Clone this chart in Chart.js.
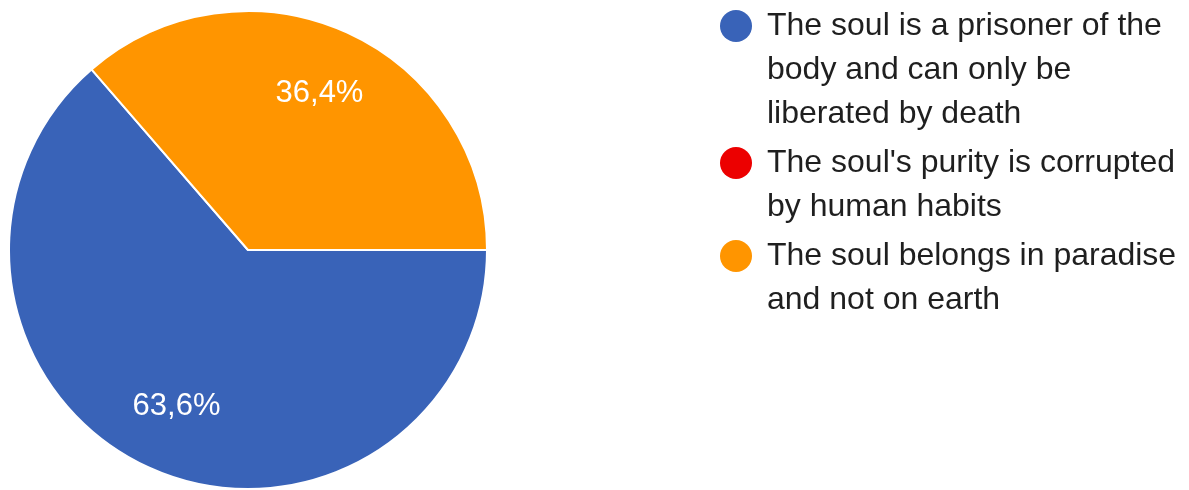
<!DOCTYPE html>
<html>
<head>
<meta charset="utf-8">
<script src="https://cdn.jsdelivr.net/npm/chart.js@4"></script>
<style>
  html, body { margin: 0; padding: 0; background: #fff; }
  #wrap { width: 1189px; height: 490px; position: relative; }
</style>
</head>
<body>
<div id="wrap"><canvas id="pieChart"></canvas></div>
<script>
// answers, split into the lines shown in the legend
const answers = [
  ['The soul is a prisoner of the', 'body and can only be', 'liberated by death'],
  ["The soul's purity is corrupted", 'by human habits'],
  ['The soul belongs in paradise', 'and not on earth'],
];
const responses = [7, 0, 4];
const colors = ['#3963b8', '#ec0000', '#ff9500'];

const FONT = '"Liberation Sans", Arial, sans-serif';

// percent labels inside each slice, placed along the slice bisector
const sliceLabels = {
  id: 'sliceLabels',
  afterDatasetsDraw(chart) {
    const { ctx } = chart;
    const meta = chart.getDatasetMeta(0);
    const total = responses.reduce((a, b) => a + b, 0);
    ctx.save();
    ctx.fillStyle = '#ffffff';
    ctx.font = '31px ' + FONT;
    ctx.textAlign = 'center';
    ctx.textBaseline = 'middle';
    meta.data.forEach((arc, i) => {
      if (!responses[i]) return;
      const mid = (arc.startAngle + arc.endAngle) / 2;
      const r = arc.outerRadius * 0.72;
      const pct = (responses[i] / total * 100).toFixed(1).replace('.', ',') + '%';
      ctx.fillText(pct, arc.x + Math.cos(mid) * r, arc.y + Math.sin(mid) * r);
    });
    ctx.restore();
  },
};

// legend on the right with round markers and wrapped text
const sideLegend = {
  id: 'sideLegend',
  afterDraw(chart) {
    const { ctx } = chart;
    const lineH = 44, gap = 5;
    let y = 26;
    ctx.save();
    ctx.font = '32px ' + FONT;
    ctx.textBaseline = 'middle';
    answers.forEach((lines, i) => {
      ctx.fillStyle = colors[i];
      ctx.beginPath();
      ctx.arc(736, y, 16, 0, Math.PI * 2);
      ctx.fill();
      ctx.fillStyle = '#1f1f1f';
      lines.forEach((t, j) => ctx.fillText(t, 767, y + j * lineH));
      y += lines.length * lineH + gap;
    });
    ctx.restore();
  },
};

new Chart(document.getElementById('pieChart'), {
  type: 'pie',
  data: {
    labels: answers.map(a => a.join(' ')),
    datasets: [{
      data: responses,
      backgroundColor: colors,
      borderColor: '#ffffff',
      borderWidth: 2,
    }],
  },
  options: {
    responsive: true, maintainAspectRatio: false,
    animation: false,
    rotation: 90,
    layout: { padding: { left: 8, top: 10, right: 701, bottom: 0 } },
    plugins: { legend: { display: false }, tooltip: { enabled: false } },
  },
  plugins: [sliceLabels, sideLegend],
});
</script>
</body>
</html>
